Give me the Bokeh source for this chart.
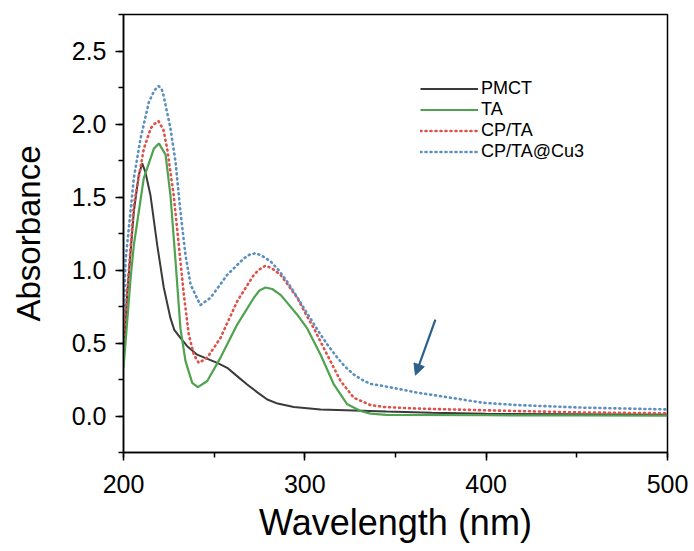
from bokeh.plotting import figure
from bokeh.models import (SingleIntervalTicker, NumeralTickFormatter, Arrow, NormalHead,
                          Legend, LegendItem)
from bokeh.embed import file_html
from bokeh.resources import INLINE

# ---- data ----
pmct_x = [200, 202, 205.7, 208.4, 210.3, 212.1, 214.9, 218.6, 222.2, 225.9, 228, 231.4, 235,
          240.6, 251.7, 257.2, 262, 268.2, 274, 279.3, 285, 293.9, 308.7, 327, 345, 370,
          400, 450, 500]
pmct_y = [0.40, 0.83, 1.40, 1.65, 1.73, 1.67, 1.51, 1.17, 0.88, 0.67, 0.59, 0.535, 0.48,
          0.42, 0.364, 0.33, 0.28, 0.216, 0.16, 0.113, 0.085, 0.061, 0.045, 0.038, 0.03,
          0.022, 0.015, 0.012, 0.008]

ta_x = [200, 203.9, 205.7, 211.2, 216.7, 219.5, 223.2, 225.9, 228.7, 231.4, 234.2, 237.9,
        241, 246.2, 253.5, 262.7, 271.9, 275, 278.3, 282, 286.6, 290, 295.8, 301.3, 308.7,
        313, 316, 323.4, 330.7, 336.2, 345, 400, 450, 500]
ta_y = [0.33, 0.94, 1.17, 1.63, 1.83, 1.867, 1.79, 1.51, 1.06, 0.60, 0.376, 0.227,
        0.198, 0.24, 0.40, 0.626, 0.81, 0.86, 0.88, 0.87, 0.83, 0.78, 0.694, 0.60, 0.42,
        0.30, 0.216, 0.08, 0.034, 0.016, 0.008, 0.005, 0.004, 0.003]

cpta_x = [200, 205.7, 211.2, 215, 217, 219.3, 222, 224.1, 227.7, 230.5, 233.3, 236, 238.8,
          241.5, 246.2, 253.5, 262.7, 271.9, 274.5, 278.3, 282, 286.6, 290, 295.8, 300,
          305, 312.3, 319.7, 327, 336.2, 343.6, 360, 380, 417, 450, 500]
cpta_y = [0.52, 1.445, 1.83, 1.97, 2.0, 2.02, 1.96, 1.83, 1.51, 1.17, 0.83, 0.557, 0.42,
          0.364, 0.40, 0.535, 0.786, 0.967, 1.0, 1.03, 1.01, 0.967, 0.91, 0.81, 0.71,
          0.60, 0.42, 0.24, 0.125, 0.075, 0.062, 0.052, 0.045, 0.034, 0.025, 0.018]

cu3_x = [200, 201.1, 205.7, 209.4, 214, 217, 219.3, 221, 222, 225.9, 228.7, 231.4, 234.2,
         237, 242.4, 248, 257.2, 266.4, 269.5, 272.8, 276, 281, 285.5, 290.3, 295, 299.4,
         304, 308.7, 313, 317.9, 322, 327, 332, 336.2, 343.6, 362, 380.4, 398.7, 417,
         453.9, 500]
cu3_y = [0.65, 1.06, 1.63, 1.90, 2.15, 2.23, 2.26, 2.24, 2.20, 1.97, 1.74, 1.40, 1.10,
         0.90, 0.76, 0.81, 0.967, 1.08, 1.105, 1.115, 1.10, 1.06, 1.0, 0.92, 0.83, 0.74,
         0.65, 0.557, 0.48, 0.40, 0.34, 0.284, 0.245, 0.22, 0.205, 0.16, 0.125, 0.09,
         0.075, 0.057, 0.045]

labels = ["PMCT", "TA", "CP/TA", "CP/TA@Cu3"]
arrow_start = (372, 0.66)
arrow_end = (361, 0.28)

FONT = "Liberation Sans"

p = figure(width=688, height=545, x_range=(200, 500), y_range=(-0.25, 2.75),
           output_backend="svg", toolbar_location=None,
           min_border_left=123, min_border_right=21, min_border_top=14, min_border_bottom=91)
p.background_fill_color = "white"
p.border_fill_color = "white"
p.grid.visible = False
p.outline_line_color = "black"
p.outline_line_width = 1.5
p.outline_line_alpha = 1

r1 = p.line(pmct_x, pmct_y, line_color="#3a3a3a", line_width=2)
r2 = p.line(ta_x, ta_y, line_color="#4fa24f", line_width=2.2)
r3 = p.line(cpta_x, cpta_y, line_color="#e0504a", line_width=2.6, line_dash="1 4", line_cap="round")
r4 = p.line(cu3_x, cu3_y, line_color="#5a8fc0", line_width=2.6, line_dash="1 4", line_cap="round")

p.add_layout(Arrow(end=NormalHead(size=11, fill_color="#2c5f8a", line_color="#2c5f8a"),
                   x_start=arrow_start[0], y_start=arrow_start[1],
                   x_end=arrow_end[0], y_end=arrow_end[1],
                   line_color="#2c5f8a", line_width=2.2))

p.xaxis.ticker = SingleIntervalTicker(interval=100, num_minor_ticks=2)
p.yaxis.ticker = SingleIntervalTicker(interval=0.5, num_minor_ticks=2)
p.yaxis.formatter = NumeralTickFormatter(format="0.0")
for ax in (p.xaxis, p.yaxis):
    ax.axis_line_width = 1.5
    ax.axis_line_color = "black"
    ax.major_tick_line_width = 1.5
    ax.minor_tick_line_width = 1.5
    ax.major_tick_out = 8
    ax.major_tick_in = 0
    ax.minor_tick_out = 5
    ax.minor_tick_in = 0
    ax.major_label_text_font = FONT
    ax.major_label_text_font_size = "25px"
    ax.major_label_text_color = "black"
    ax.axis_label_text_font = FONT
    ax.axis_label_text_font_style = "normal"
    ax.axis_label_text_color = "black"

p.xaxis.axis_label_text_font_size = "36px"
p.yaxis.axis_label_text_font_size = "33px"
p.xaxis.axis_label = "Wavelength (nm)"
p.yaxis.axis_label = "Absorbance"
p.xaxis.major_label_standoff = 14
p.yaxis.major_label_standoff = 9
p.xaxis.axis_label_standoff = 6
p.yaxis.axis_label_standoff = 22

legend = Legend(items=[LegendItem(label=labels[0], renderers=[r1]),
                       LegendItem(label=labels[1], renderers=[r2]),
                       LegendItem(label=labels[2], renderers=[r3]),
                       LegendItem(label=labels[3], renderers=[r4])],
                location=(297, 290))
legend.border_line_color = None
legend.background_fill_alpha = 0
legend.padding = 0
legend.margin = 0
legend.spacing = 0
legend.glyph_width = 58
legend.glyph_height = 21
legend.label_height = 21
legend.label_standoff = 3
legend.label_text_font = FONT
legend.label_text_font_size = "18px"
legend.label_text_color = "black"
p.add_layout(legend, "center")

open("out.html", "w").write(file_html(p, INLINE))
